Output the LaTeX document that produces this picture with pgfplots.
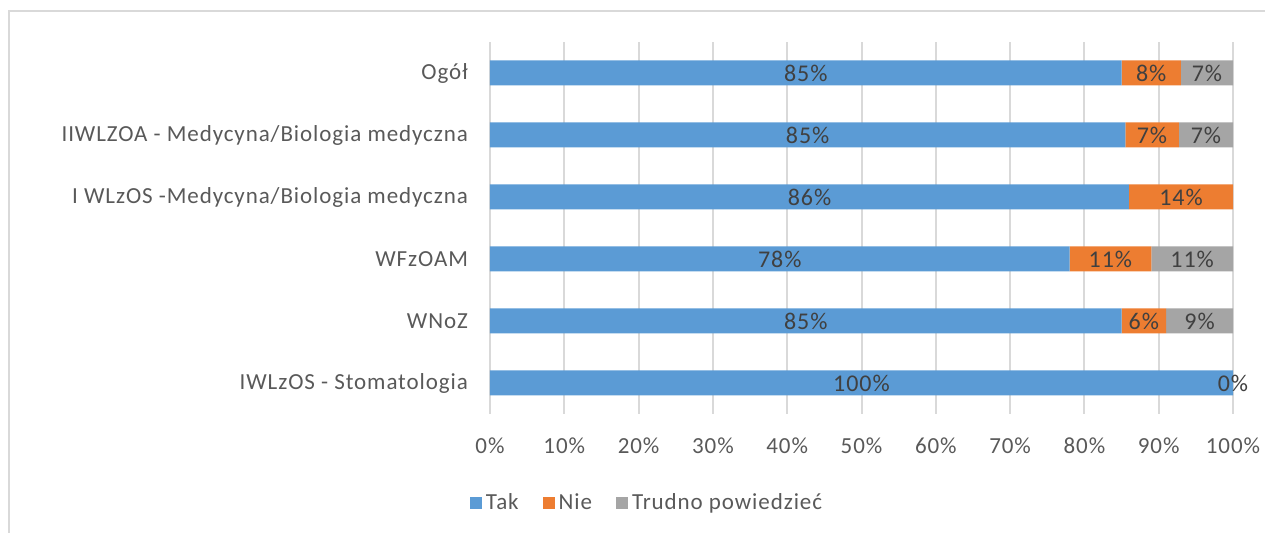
\documentclass[border=0pt]{standalone}
\usepackage{pgfplots}
\pgfplotsset{compat=1.18}
\usepackage{fontspec}
\setmainfont{Carlito}[LetterSpace=4]
\definecolor{tak}{HTML}{5B9BD5}
\definecolor{nie}{HTML}{ED7D31}
\definecolor{tru}{HTML}{A5A5A5}
\definecolor{txt}{HTML}{595959}
\definecolor{lbl}{HTML}{404040}
\definecolor{gridc}{HTML}{D9D9D9}
\begin{document}
\begin{tikzpicture}
\path[use as bounding box] (0,0) rectangle (632.5pt,-266.5pt);
\draw[line width=1pt, color=gridc] (4.5pt,-266.5pt) -- (4.5pt,-5.5pt) -- (632.5pt,-5.5pt);
\begin{axis}[
  at={(245pt,-207pt)}, anchor=south west,
  scale only axis, width=371.5pt, height=186pt,
  xbar stacked, bar width=12.5pt,
  xmin=0, xmax=100, ymin=-0.5, ymax=5.5,
  ytick={0,1,2,3,4,5},
  yticklabels={IWLzOS - Stomatologia, WNoZ, WFzOAM, I WLzOS -Medycyna/Biologia medyczna\hspace{0.25em}, IIWLZOA - Medycyna/Biologia medyczna, Ogół},
  xtick={0,10,...,100},
  xticklabels={0\%,10\%,20\%,30\%,40\%,50\%,60\%,70\%,80\%,90\%,100\%},
  axis line style={draw=none},
  major tick length=0pt,
  xmajorgrids, ymajorgrids=false,
  grid style={line width=1pt, color=gridc},
  tick label style={text=txt, font=\fontsize{11.5}{13}\selectfont},
  yticklabel style={anchor=east, xshift=-7.5pt},
  xticklabel style={anchor=north, yshift=-8.5pt},
  legend style={at={(0.2127,-0.239)}, anchor=center, draw=none, fill=none,
    legend columns=3, font=\fontsize{11.5}{13}\selectfont, text=txt,
    /tikz/every even column/.append style={column sep=10pt}},
  legend image code/.code={\fill[#1] (0pt,-3pt) rectangle (6pt,3pt);},
]
\addplot[fill=tak, draw=none] coordinates {(100,0) (85,1) (78,2) (86,3) (85.5,4) (85,5)};
\addlegendentry{Tak}
\addplot[fill=nie, draw=none] coordinates {(0,0) (6,1) (11,2) (14,3) (7.2,4) (8,5)};
\addlegendentry{Nie}
\addplot[fill=tru, draw=none] coordinates {(0,0) (9,1) (11,2) (0,3) (7.3,4) (7,5)};
\addlegendentry{Trudno powiedzieć}
\end{axis}
\begin{axis}[
  at={(245pt,-207pt)}, anchor=south west,
  scale only axis, width=371.5pt, height=186pt,
  xmin=0, xmax=100, ymin=-0.5, ymax=5.5,
  hide axis,
]
\addplot[only marks, mark=*, mark size=0pt, mark options={draw=none, fill=none},
  point meta=explicit symbolic,
  nodes near coords={\pgfplotspointmeta\%},
  every node near coord/.style={anchor=center, text=lbl, font=\fontsize{12}{13}\selectfont}]
coordinates {
(42.5,5) [85] (89,5) [8] (96.5,5) [7]
(42.75,4) [85] (89.1,4) [7] (96.35,4) [7]
(43,3) [86] (93,3) [14]
(39,2) [78] (83.5,2) [11] (94.5,2) [11]
(42.5,1) [85] (88,1) [6] (95.5,1) [9]
(50,0) [100] (100,0) [0]
};
\end{axis}
\end{tikzpicture}
\end{document}
